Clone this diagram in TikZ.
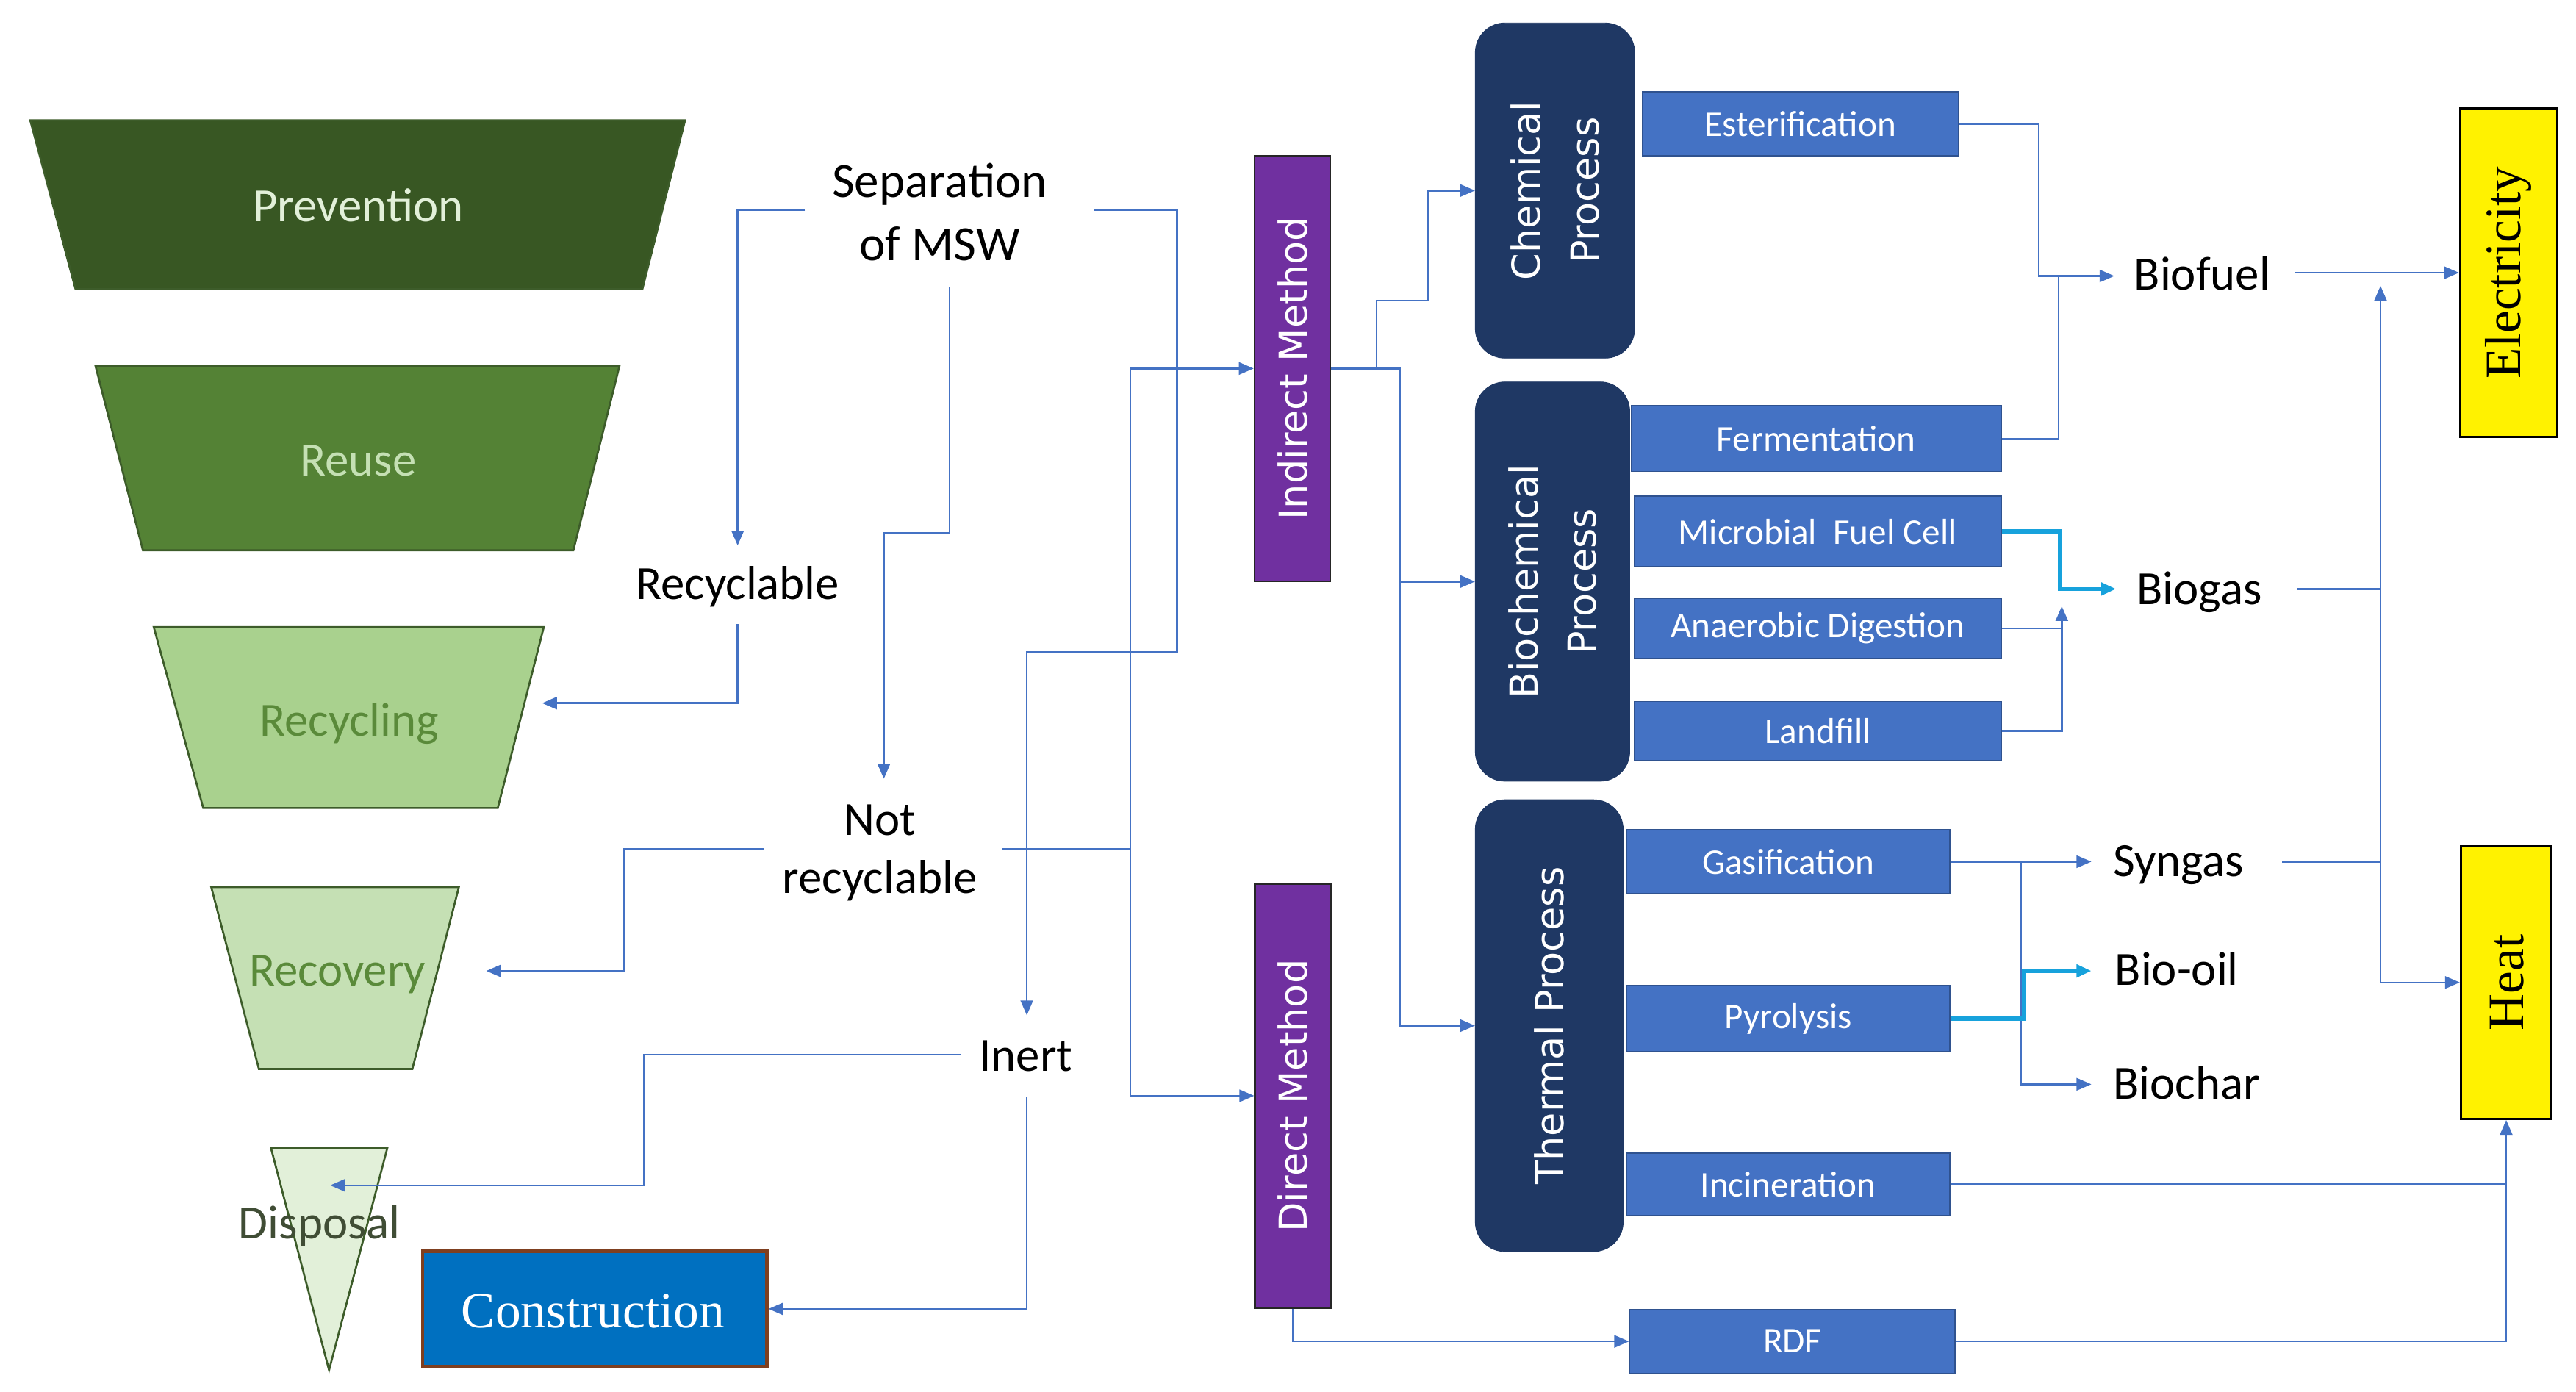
\documentclass[tikz,border=0pt]{standalone}
\usepackage{fontspec}
\setmainfont{Carlito}
\newfontfamily\vsans{DejaVu Sans}
\newfontfamily\tnr{Liberation Serif}
\usetikzlibrary{arrows.meta}
\definecolor{gPrev}{HTML}{385723}
\definecolor{gReuse}{HTML}{548235}
\definecolor{gRecyc}{HTML}{A9D18E}
\definecolor{gRecov}{HTML}{C5E0B4}
\definecolor{gDisp}{HTML}{E2F0D9}
\definecolor{gEdge}{HTML}{3D5C2A}
\definecolor{tPrev}{HTML}{E2F0D9}
\definecolor{tReuse}{HTML}{C5E0B4}
\definecolor{tGreen}{HTML}{5A8A3A}
\definecolor{tDisp}{HTML}{404D35}
\definecolor{navy}{HTML}{1F3864}
\definecolor{purp}{HTML}{7030A0}
\definecolor{bbox}{HTML}{4472C4}
\definecolor{bedge}{HTML}{2F528F}
\definecolor{lineb}{HTML}{4472C4}
\definecolor{cyanl}{HTML}{17A2DC}
\definecolor{cblue}{HTML}{0070C0}
\definecolor{cedge}{HTML}{7F3F1F}
\tikzset{
  conn/.style={draw=lineb, line width=1.1pt},
  cyanconn/.style={draw=cyanl, line width=2.4pt},
  arrowed/.style={-{Triangle[length=9pt,width=7.5pt]}},
  bothends/.style={{Triangle[length=9pt,width=7.5pt]}-{Triangle[length=9pt,width=7.5pt]}},
  lbl/.style={inner sep=0pt, font=\fontsize{29}{35.5}\selectfont, align=center, text=black},
  traptxt/.style={inner sep=0pt, font=\fontsize{29}{34}\selectfont},
  trap/.style={draw=gEdge, line width=1.2pt},
  procbox/.style={draw=bedge, fill=bbox, line width=0.8pt, text=white, inner sep=0pt, font=\fontsize{22}{26}\selectfont},
  navybox/.style={fill=navy, draw=navy, rounded corners=18pt, inner sep=0pt},
  methbox/.style={fill=purp, draw=black!85, line width=1.2pt, inner sep=0pt},
  rottxt/.style={rotate=90, text=white, inner sep=0pt, align=center, font=\vsans\fontsize{23.5}{35.5}\selectfont},
  ybox/.style={fill=yellow, draw=black, line width=1.5pt, inner sep=0pt},
}
\begin{document}
\begin{tikzpicture}[x=1pt,y=-1pt]
\useasboundingbox (0,0) rectangle (1568,847.3);

% ---------- hierarchy funnel ----------
\draw[trap, fill=gPrev] (18.4,73.2) -- (417,73.2) -- (391,176) -- (46,176) -- cycle;
\node[traptxt, text=tPrev, anchor=base] (prev) at (218,135) {Prevention};
\draw[trap, fill=gReuse] (58.2,223) -- (377,223) -- (349,335) -- (87,335) -- cycle;
\node[traptxt, text=tReuse, anchor=base] (reuse) at (218,289.6) {Reuse};
\draw[trap, fill=gRecyc] (93.6,381.7) -- (331,381.7) -- (303,491.8) -- (123.7,491.8) -- cycle;
\node[traptxt, text=tGreen, anchor=base] (recycling) at (212.6,448) {Recycling};
\draw[trap, fill=gRecov] (128.6,540) -- (279.3,540) -- (251,650.7) -- (157.6,650.7) -- cycle;
\node[traptxt, text=tGreen, anchor=base] (recovery) at (205.4,600) {Recovery};
\draw[trap, fill=gDisp] (165,699) -- (235.7,699) -- (200.3,834) -- cycle;
\node[traptxt, text=tDisp, anchor=base] (disposal) at (194.5,754) {Disposal};

\node[fill=cblue, draw=cedge, line width=2pt, minimum width=209.6pt, minimum height=70pt, inner sep=0pt] (constr) at (362,796.7) {};
\node[inner sep=0pt, text=white, font=\tnr\fontsize{31}{36}\selectfont, anchor=base] (constrT) at (361,808) {Construction};

% ---------- labels ----------
\node[lbl, font=\fontsize{30}{38.5}\selectfont] (sep) at (572,129) {Separation\\of MSW};
\node[lbl, anchor=base] (recyc) at (449,364.6) {Recyclable};
\node[lbl] (notrec) at (535.5,519) {Not\\recyclable};
\node[lbl, anchor=base] (inert) at (624.5,652) {Inert};
\node[lbl, anchor=base] (biofuel) at (1340.5,176.4) {Biofuel};
\node[lbl, anchor=base] (biogas) at (1338.7,367.8) {Biogas};
\node[lbl, anchor=base] (syngas) at (1326,533.5) {Syngas};
\node[lbl, anchor=base] (biooil) at (1325,599.7) {Bio-oil};
\node[lbl, anchor=base] (biochar) at (1331,669) {Biochar};

% ---------- method boxes ----------
\node[methbox, minimum width=46pt, minimum height=259pt] (indirect) at (786.7,224.3) {};
\node[rottxt] (indirectT) at (indirect.center) {Indirect Method};
\node[methbox, minimum width=46pt, minimum height=258pt] (direct) at (787,667) {};
\node[rottxt] (directT) at (direct.center) {Direct Method};

% ---------- process boxes ----------
\node[navybox, minimum width=97pt, minimum height=204pt] (chem) at (946.5,116) {};
\node[rottxt] (chemT) at (chem.center) {Chemical\\Process};
\node[navybox, minimum width=94pt, minimum height=243pt] (biochem) at (945,354) {};
\node[rottxt] (biochemT) at (biochem.center) {Biochemical\\Process};
\node[navybox, minimum width=90pt, minimum height=275pt] (thermal) at (943,624.3) {};
\node[rottxt] (thermalT) at (thermal.center) {Thermal Process};

\node[procbox, minimum width=192pt, minimum height=39pt] (ester) at (1096,75.5) {Esterification};
\node[procbox, minimum width=225pt, minimum height=40pt] (ferm) at (1105.5,267) {Fermentation};
\node[procbox, minimum width=223pt, minimum height=43pt] (mfc) at (1106.5,323.5) {Microbial\ \ Fuel Cell};
\node[procbox, minimum width=223pt, minimum height=37pt] (anaer) at (1106.5,382.5) {Anaerobic Digestion};
\node[procbox, minimum width=223pt, minimum height=36pt] (landf) at (1106.5,445) {Landfill};
\node[procbox, minimum width=197pt, minimum height=39pt] (gasif) at (1088.5,524.5) {Gasification};
\node[procbox, minimum width=197pt, minimum height=40pt] (pyro) at (1088.5,620) {Pyrolysis};
\node[procbox, minimum width=197pt, minimum height=38pt] (incin) at (1088.5,721) {Incineration};
\node[procbox, minimum width=198pt, minimum height=39pt] (rdf) at (1091,816.5) {RDF};

% ---------- output boxes ----------
\node[ybox, minimum width=59pt, minimum height=200pt] (elec) at (1527,166) {};
\node[rotate=90, inner sep=0pt, font=\tnr\fontsize{31}{36}\selectfont] (elecT) at (elec.center) {Electricity};
\node[ybox, minimum width=55pt, minimum height=166pt] (heat) at (1525.5,598) {};
\node[rotate=90, inner sep=0pt, font=\tnr\fontsize{31}{36}\selectfont] (heatT) at (1526,598) {Heat};

% ---------- connector end points ----------
\coordinate (sepL) at (490,128);
\coordinate (sepB) at (578,175);
\coordinate (sepR) at (666,128);
\coordinate (recycTop) at (449,332);
\coordinate (recycBot) at (449,380);
\coordinate (recyclingA) at (330,428);
\coordinate (notTop) at (538,474);
\coordinate (notL) at (465,517);
\coordinate (notR) at (610,517);
\coordinate (recoveryA) at (296,591);
\coordinate (inertTop) at (625,618);
\coordinate (inertL) at (585,642);
\coordinate (inertB) at (625,667.5);
\coordinate (disposalA) at (201,721.5);
\coordinate (splitX) at (688,517);
\coordinate (bfA) at (1287,168);
\coordinate (bfR) at (1397,166);
\coordinate (bgA) at (1288,358.5);
\coordinate (bgR) at (1398,358.5);
\coordinate (sgA) at (1273,524.5);
\coordinate (sgR) at (1389,524.5);
\coordinate (boA) at (1273,591);
\coordinate (bcA) at (1273,660);

% ---------- connectors ----------
\draw[conn, arrowed] (sepL) -| (recycTop);
\draw[conn, arrowed] (sepB) -- ++(0,149.5) -| (notTop);
\draw[conn, arrowed] (sepR) -| (716.5,397) -| (inertTop);
\draw[conn, arrowed] (recycBot) |- (recyclingA);
\draw[conn, arrowed] (notL) -| (380,591) -- (recoveryA);
\draw[conn] (notR) -- (splitX);
\draw[conn, arrowed] (splitX) |- (indirect.west);
\draw[conn, arrowed] (splitX) |- (direct.west);
\draw[conn, arrowed] (inertL) -| (392,721.5) -- (disposalA);
\draw[conn, arrowed] (inertB) |- (constr.east);

\draw[conn, arrowed] (indirect.east) -- (852,224.3) |- (thermal.west);
\draw[conn, arrowed] (852,354) -- (biochem.west);
\draw[conn, arrowed] (838,224.3) -- (838,183) -| (869,116) -- (chem.west);

\draw[conn, arrowed] (ester.east) -| (1241,168) -- (bfA);
\draw[conn] (ferm.east) -| (1253,168);
\draw[cyanconn, arrowed] (mfc.east) -| (1254,358.5) -- (bgA);
\draw[conn, arrowed] (anaer.east) -| (1255,369);
\draw[conn] (landf.east) -| (1255,382.5);

\draw[conn, arrowed] (bfR) -- (elec.west);
\draw[conn] (bgR) -- (1449,358.5);
\draw[conn] (sgR) -- (1449,524.5);
\draw[conn, bothends] (1449,174) |- (heat.west);

\draw[conn, arrowed] (gasif.east) -- (sgA);
\draw[conn, arrowed] (1230,524.5) |- (bcA);
\draw[cyanconn, arrowed] (pyro.east) -| (1232,591) -- (boA);

\draw[conn, arrowed] (incin.east) -| (heat.south);
\draw[conn] (rdf.east) -| (1525.5,721);
\draw[conn, arrowed] (direct.south) |- (rdf.west);
\end{tikzpicture}
\end{document}
